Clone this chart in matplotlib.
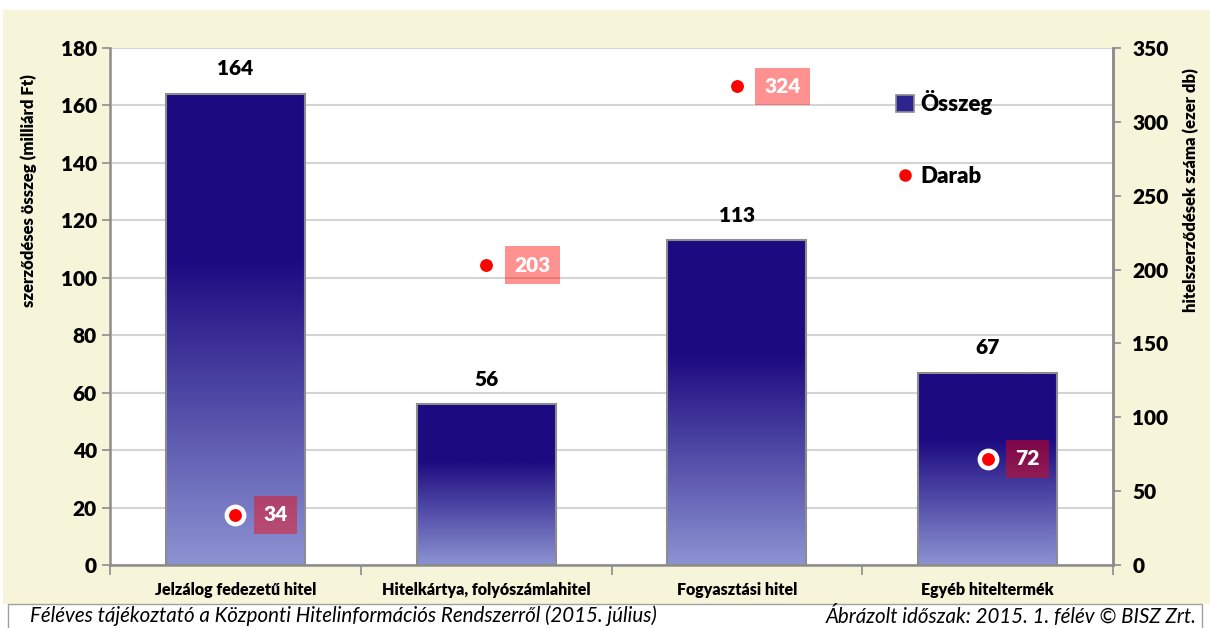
import numpy as np
import matplotlib
matplotlib.use("Agg")
import matplotlib.pyplot as plt
from matplotlib.patches import Rectangle, Patch
from matplotlib.lines import Line2D
from matplotlib.colors import LinearSegmentedColormap

plt.rcParams['font.family'] = ['Lato', 'DejaVu Sans']
plt.rcParams['font.weight'] = 'heavy'
plt.rcParams['axes.labelweight'] = 'heavy'

categories = ['Jelzálog fedezetű hitel', 'Hitelkártya, folyószámlahitel',
              'Fogyasztási hitel', 'Egyéb hiteltermék']
osszeg = [164, 56, 113, 67]      # milliárd Ft
darab = [34, 203, 324, 72]       # ezer db

left_ticks = np.arange(0, 181, 20)
right_ticks = np.arange(0, 351, 50)

cream = '#F6F5DA'
axis_grey = '#8C8C8C'
dark = '#1C0A80'
light = '#8C93D2'

fig = plt.figure(figsize=(12.1, 6.28), dpi=100)
fig.patch.set_facecolor('white')
# cream background panel and white footer box
fig.patches.append(Rectangle((3 / 1210, 24 / 628), 1207 / 1210, 594 / 628,
                             transform=fig.transFigure, facecolor=cream,
                             edgecolor='none', zorder=-2))
fig.patches.append(Rectangle((8 / 1210, -2 / 628), 1194 / 1210, 26 / 628,
                             transform=fig.transFigure, facecolor='white',
                             edgecolor='#A0A0A0', linewidth=1, zorder=-1))

ax = fig.add_axes([110 / 1210, 63 / 628, 1003 / 1210, 517 / 628])
ax.set_facecolor('white')
x = np.arange(len(categories))
bars = ax.bar(x, osszeg, width=0.555, facecolor='none', edgecolor=axis_grey,
              linewidth=1.5, zorder=3)

# vertical gradient: dark top portion, then fade to light at the bottom
t = np.linspace(0, 1, 256)
grad = np.clip((t - 0.35) / 0.65, 0, 1).reshape(-1, 1)
cmap = LinearSegmentedColormap.from_list('bargrad', [dark, light])
for rect in bars:
    x0 = rect.get_x()
    w = rect.get_width()
    h = rect.get_height()
    im = ax.imshow(grad, cmap=cmap, vmin=0, vmax=1, aspect='auto',
                   extent=(x0, x0 + w, 0, h), origin='upper', zorder=2)
    im.set_clip_path(rect)

for xi, v in zip(x, osszeg):
    ax.annotate(f'{v}', (xi, v), xytext=(0, 18), textcoords='offset points',
                ha='center', va='center', fontsize=15)

ax.set_xlim(-0.5, len(categories) - 0.5)
ax.set_ylim(0, 180)
ax.set_yticks(left_ticks)
ax.set_xticks(np.arange(len(categories) + 1) - 0.5, minor=True)
ax.set_xticks(x)
ax.set_xticklabels(categories, fontsize=11.5)
ax.tick_params(axis='x', which='major', length=0, pad=12)
ax.tick_params(axis='x', which='minor', length=7, color=axis_grey, width=1.2)
ax.tick_params(axis='y', length=6, color=axis_grey, width=1.2, labelsize=15)
ax.yaxis.grid(True, color='#D4D4D4', linewidth=1.5)
ax.set_axisbelow(True)
ax.spines['top'].set_visible(False)
for s in ['left', 'bottom', 'right']:
    ax.spines[s].set_color(axis_grey)
    ax.spines[s].set_linewidth(1.8)
ax.set_ylabel('szerződéses összeg (milliárd Ft)', fontsize=12)
ax.yaxis.set_label_coords(-0.073, 0.725)

ax2 = ax.twinx()
ax2.set_ylim(0, 350)
ax2.set_yticks(right_ticks)
ax2.tick_params(axis='y', length=6, color=axis_grey, width=1.2, labelsize=15, pad=8)
for s in ['top', 'left', 'bottom']:
    ax2.spines[s].set_visible(False)
ax2.spines['right'].set_color(axis_grey)
ax2.spines['right'].set_linewidth(1.8)
ax2.set_ylabel('hitelszerződések száma (ezer db)', fontsize=12)
ax2.yaxis.set_label_coords(1.07, 0.725)

ax2.plot(x, darab, linestyle='none', marker='o', markersize=12.5,
         markerfacecolor='red', markeredgecolor='white', markeredgewidth=3.2,
         zorder=5)
for xi, v in zip(x, darab):
    ax2.annotate(f'{v}', (xi, v), xytext=(20, 0), textcoords='offset points',
                 ha='left', va='center', fontsize=15, color='white',
                 bbox=dict(boxstyle='square,pad=0.45', facecolor=(1, 0, 0, 0.43),
                           edgecolor='none'))

handles = [Patch(facecolor='#2E2490', edgecolor=axis_grey, linewidth=1.2),
           Line2D([], [], linestyle='none', marker='o', markersize=8,
                  markerfacecolor='red', markeredgecolor='red')]
ax2.legend(handles, ['Összeg', 'Darab'], loc='upper left',
           bbox_to_anchor=(0.764, 0.957), frameon=False, handlelength=0.8,
           handleheight=0.8, handletextpad=0.3, labelspacing=2.3,
           prop={'weight': 'heavy', 'size': 16})

fig.text(30 / 1210, 12 / 628,
         'Féléves tájékoztató a Központi Hitelinformációs Rendszerről (2015. július)',
         ha='left', va='center', fontsize=14.8, style='italic', fontweight='normal')
fig.text(1197 / 1210, 12 / 628, 'Ábrázolt időszak: 2015. 1. félév © BISZ Zrt.',
         ha='right', va='center', fontsize=14.8, style='italic', fontweight='normal')

fig.savefig('out.png', dpi=100, facecolor=fig.get_facecolor())
